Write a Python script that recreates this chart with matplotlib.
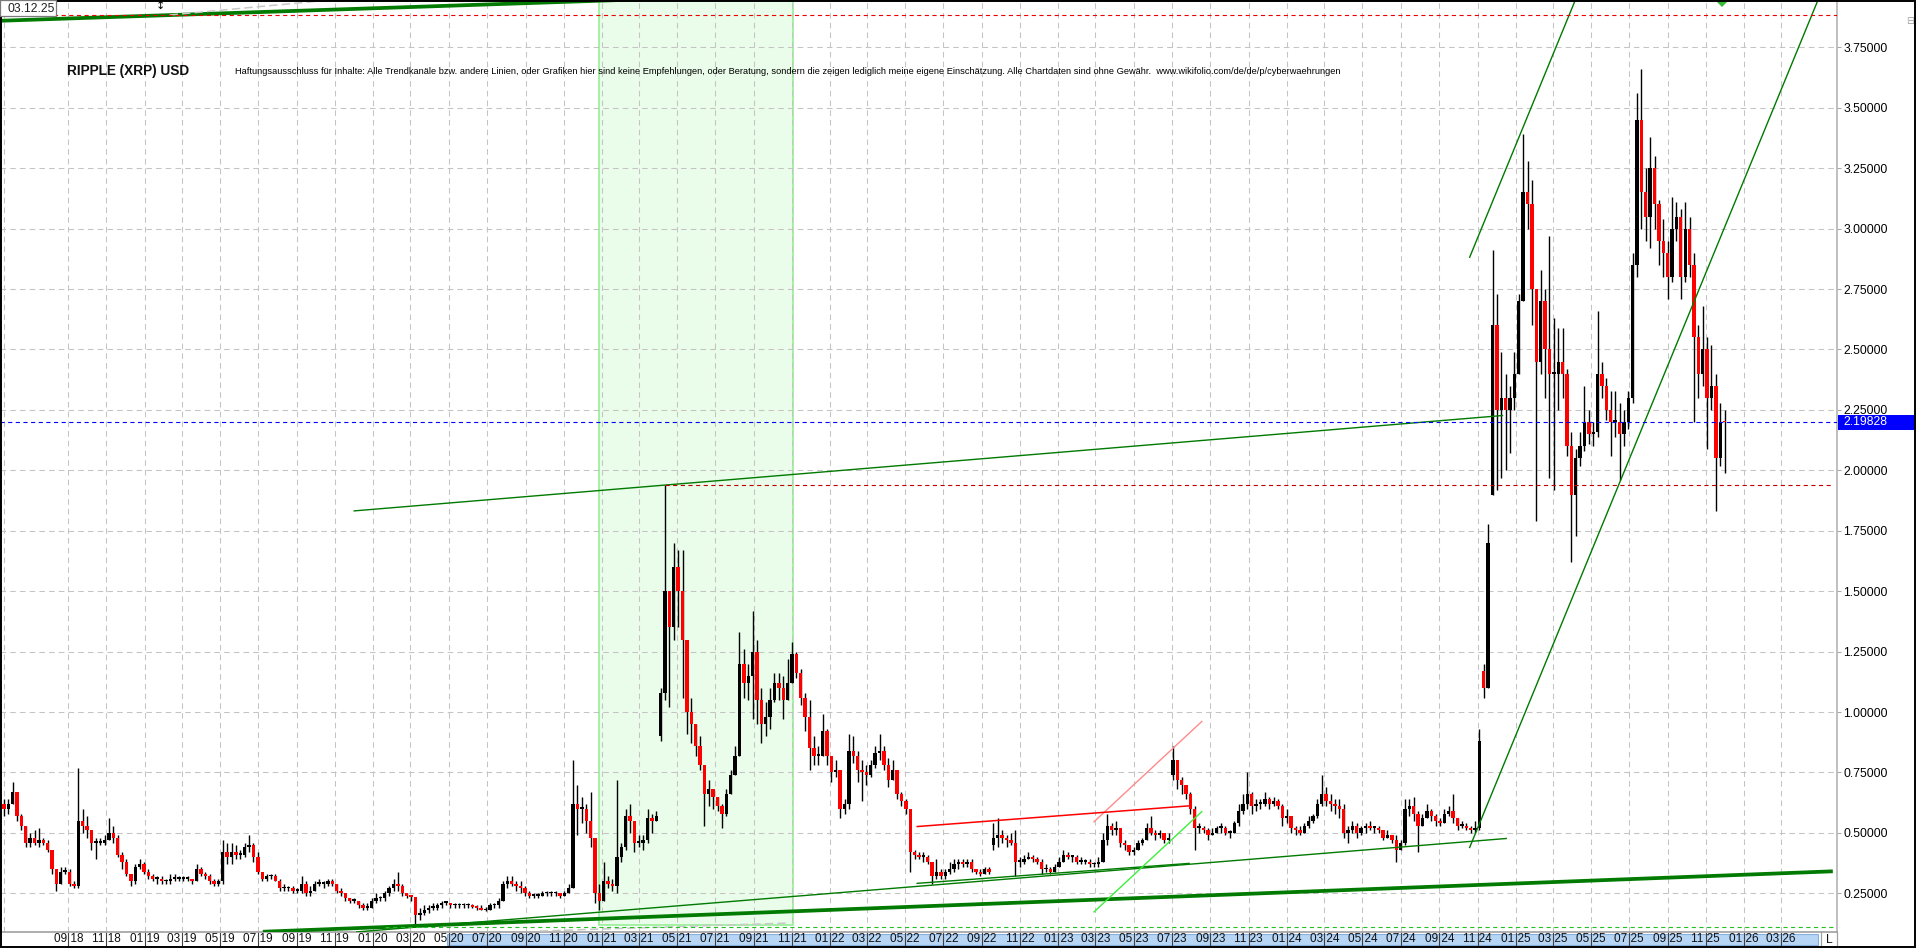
import numpy as np
import pandas as pd
import matplotlib
matplotlib.use("Agg")
import matplotlib.pyplot as plt
import matplotlib.dates as mdates
import matplotlib.transforms as mtransforms
from matplotlib.patches import Rectangle
from matplotlib.lines import Line2D
from matplotlib.collections import LineCollection
from matplotlib.ticker import FixedLocator, FuncFormatter
from matplotlib import font_manager

plt.rcParams['font.family'] = ['Liberation Sans', 'DejaVu Sans']
plt.rcParams['lines.scale_dashes'] = False

# ---------------- weekly XRP/USD candles ----------------
week_start = "2018-05-21"
first_open = 0.62

close = [
    0.60, 0.62, 0.67, 0.57, 0.53, 0.46, 0.48, 0.46, 0.47, 0.46,
    0.43, 0.35, 0.29, 0.34, 0.34, 0.29, 0.28, 0.55, 0.53, 0.51,
    0.46, 0.46, 0.46, 0.47, 0.50, 0.48, 0.41, 0.38, 0.33, 0.30,
    0.36, 0.37, 0.34, 0.32, 0.31, 0.31, 0.30, 0.30, 0.31, 0.31,
    0.31, 0.31, 0.31, 0.30, 0.35, 0.33, 0.32, 0.30, 0.29, 0.30,
    0.42, 0.40, 0.42, 0.41, 0.41, 0.44, 0.45, 0.40, 0.34, 0.31,
    0.32, 0.32, 0.30, 0.27, 0.27, 0.27, 0.26, 0.26, 0.29, 0.25,
    0.26, 0.29, 0.29, 0.29, 0.30, 0.29, 0.26, 0.25, 0.23, 0.22,
    0.22, 0.20, 0.19, 0.19, 0.22, 0.23, 0.23, 0.25, 0.27, 0.29,
    0.28, 0.25, 0.24, 0.235, 0.16, 0.17, 0.18, 0.19, 0.19, 0.20,
    0.21, 0.21, 0.20, 0.20, 0.20, 0.20, 0.20, 0.195, 0.19, 0.18,
    0.18, 0.20, 0.20, 0.22, 0.29, 0.30, 0.29, 0.28, 0.27, 0.25,
    0.24, 0.24, 0.24, 0.25, 0.25, 0.25, 0.25, 0.24, 0.25, 0.27,
    0.62, 0.60, 0.60, 0.55, 0.48, 0.25, 0.22, 0.30, 0.29, 0.28,
    0.40, 0.44, 0.57, 0.55, 0.46, 0.46, 0.47, 0.56, 0.55, 0.57,
    1.08, 1.50, 1.35, 1.60, 1.50, 1.30, 1.00, 0.95, 0.86, 0.78,
    0.66, 0.68, 0.65, 0.61, 0.58, 0.66, 0.74, 0.82, 1.20, 1.12,
    1.15, 1.25, 1.05, 0.95, 0.98, 1.05, 1.12, 1.10, 1.05, 1.12,
    1.24, 1.16, 1.06, 0.98, 0.85, 0.82, 0.82, 0.92, 0.82, 0.75,
    0.76, 0.60, 0.62, 0.84, 0.82, 0.76, 0.75, 0.74, 0.78, 0.83,
    0.84, 0.78, 0.72, 0.76, 0.66, 0.63, 0.60, 0.42, 0.41, 0.40,
    0.40, 0.38, 0.32, 0.34, 0.32, 0.34, 0.35, 0.37, 0.38, 0.37,
    0.38, 0.35, 0.34, 0.33, 0.35, 0.34, 0.48, 0.49, 0.48, 0.47,
    0.46, 0.38, 0.38, 0.39, 0.40, 0.39, 0.38, 0.35, 0.35, 0.34,
    0.36, 0.38, 0.41, 0.40, 0.40, 0.38, 0.38, 0.38, 0.37, 0.37,
    0.38, 0.47, 0.53, 0.51, 0.52, 0.46, 0.45, 0.42, 0.43, 0.46,
    0.47, 0.52, 0.50, 0.49, 0.50, 0.47, 0.48, 0.80, 0.72, 0.70,
    0.66, 0.60, 0.52, 0.52, 0.51, 0.49, 0.50, 0.52, 0.52, 0.50,
    0.50, 0.54, 0.59, 0.62, 0.66, 0.61, 0.62, 0.62, 0.64, 0.62,
    0.63, 0.61, 0.56, 0.57, 0.52, 0.51, 0.50, 0.53, 0.55, 0.57,
    0.62, 0.66, 0.63, 0.62, 0.61, 0.60, 0.50, 0.51, 0.53, 0.50,
    0.52, 0.53, 0.52, 0.52, 0.51, 0.48, 0.49, 0.47, 0.43, 0.46,
    0.60, 0.61, 0.58, 0.53, 0.56, 0.59, 0.57, 0.55, 0.54, 0.58,
    0.59, 0.56, 0.53, 0.53, 0.52, 0.51, 0.52, 0.88, 1.10, 1.70,
    2.60, 2.25, 2.30, 2.25, 2.30, 2.40, 2.70, 3.15, 3.10, 2.75,
    2.45, 2.70, 2.50, 2.40, 2.40, 2.45, 2.40, 2.10, 1.90, 2.05,
    2.10, 2.20, 2.15, 2.16, 2.40, 2.35, 2.25, 2.20, 2.20, 2.15,
    2.20, 2.30, 2.85, 3.45, 3.15, 3.05, 3.25, 3.10, 2.95, 2.90,
    2.80, 3.00, 3.05, 2.80, 3.00, 2.85, 2.55, 2.40, 2.50, 2.30,
    2.35, 2.05, 2.20, 2.19828,
]

high = [
    0.64, 0.64, 0.71, 0.66, 0.58, 0.53, 0.50, 0.51, 0.52, 0.48,
    0.47, 0.43, 0.35, 0.36, 0.36, 0.35, 0.30, 0.77, 0.60, 0.57,
    0.51, 0.48, 0.48, 0.49, 0.56, 0.53, 0.49, 0.42, 0.39, 0.33,
    0.37, 0.39, 0.38, 0.35, 0.33, 0.32, 0.32, 0.31, 0.33, 0.33,
    0.32, 0.32, 0.32, 0.31, 0.37, 0.36, 0.34, 0.33, 0.31, 0.31,
    0.47, 0.46, 0.46, 0.45, 0.43, 0.46, 0.49, 0.46, 0.42, 0.34,
    0.33, 0.33, 0.33, 0.31, 0.29, 0.28, 0.28, 0.27, 0.32, 0.30,
    0.28, 0.30, 0.31, 0.30, 0.31, 0.31, 0.29, 0.27, 0.25, 0.23,
    0.23, 0.22, 0.21, 0.21, 0.23, 0.25, 0.24, 0.26, 0.28, 0.31,
    0.34, 0.29, 0.25, 0.245, 0.23, 0.19, 0.20, 0.20, 0.21, 0.21,
    0.22, 0.22, 0.21, 0.21, 0.21, 0.21, 0.21, 0.205, 0.20, 0.20,
    0.195, 0.21, 0.21, 0.23, 0.30, 0.32, 0.32, 0.30, 0.30, 0.28,
    0.26, 0.25, 0.25, 0.26, 0.26, 0.26, 0.26, 0.25, 0.26, 0.29,
    0.80, 0.70, 0.65, 0.62, 0.67, 0.48, 0.29, 0.38, 0.32, 0.31,
    0.72, 0.46, 0.60, 0.62, 0.55, 0.49, 0.49, 0.60, 0.58, 0.59,
    1.10, 1.94, 1.48, 1.70, 1.67, 1.67, 1.12, 1.06, 0.92, 0.90,
    0.73, 0.72, 0.68, 0.64, 0.62, 0.68, 0.76, 0.86, 1.33, 1.26,
    1.20, 1.42, 1.30, 1.10, 1.04, 1.10, 1.16, 1.16, 1.15, 1.22,
    1.29, 1.25, 1.18, 1.08, 1.05, 0.90, 0.86, 0.99, 0.93, 0.82,
    0.80, 0.76, 0.64, 0.91, 0.90, 0.84, 0.80, 0.78, 0.80, 0.86,
    0.91, 0.86, 0.81, 0.80, 0.76, 0.67, 0.64, 0.60, 0.43, 0.42,
    0.42, 0.41, 0.36, 0.39, 0.35, 0.35, 0.38, 0.39, 0.39, 0.39,
    0.39, 0.39, 0.35, 0.35, 0.36, 0.36, 0.54, 0.56, 0.51, 0.49,
    0.50, 0.51, 0.40, 0.41, 0.42, 0.41, 0.40, 0.39, 0.37, 0.36,
    0.37, 0.40, 0.43, 0.42, 0.41, 0.41, 0.40, 0.39, 0.39, 0.38,
    0.40, 0.50, 0.58, 0.54, 0.55, 0.52, 0.47, 0.45, 0.44, 0.47,
    0.48, 0.54, 0.57, 0.51, 0.51, 0.50, 0.50, 0.86, 0.80, 0.73,
    0.70, 0.67, 0.61, 0.54, 0.53, 0.52, 0.52, 0.53, 0.54, 0.53,
    0.51, 0.55, 0.62, 0.66, 0.75, 0.67, 0.64, 0.64, 0.67, 0.65,
    0.65, 0.64, 0.62, 0.60, 0.56, 0.53, 0.53, 0.54, 0.57, 0.58,
    0.64, 0.74, 0.69, 0.66, 0.64, 0.64, 0.62, 0.53, 0.55, 0.54,
    0.53, 0.54, 0.55, 0.53, 0.53, 0.51, 0.51, 0.49, 0.49, 0.47,
    0.64, 0.64, 0.65, 0.59, 0.58, 0.62, 0.60, 0.58, 0.56, 0.60,
    0.61, 0.66, 0.56, 0.55, 0.54, 0.53, 0.55, 0.93, 1.20, 1.78,
    2.91, 2.73, 2.49, 2.40, 2.35, 2.49, 2.73, 3.39, 3.28, 3.20,
    2.75, 2.83, 2.75, 2.97, 2.63, 2.59, 2.59, 2.42, 2.16, 2.09,
    2.16, 2.35, 2.25, 2.20, 2.66, 2.45, 2.38, 2.33, 2.33, 2.28,
    2.25, 2.33, 2.90, 3.56, 3.66, 3.25, 3.38, 3.30, 3.12, 3.04,
    2.95, 3.13, 3.11, 3.08, 3.11, 3.05, 2.90, 2.60, 2.68, 2.55,
    2.52, 2.40, 2.28, 2.25,
]

low = [
    0.57, 0.58, 0.64, 0.55, 0.51, 0.44, 0.44, 0.45, 0.44, 0.45,
    0.42, 0.33, 0.26, 0.29, 0.33, 0.28, 0.27, 0.27, 0.50, 0.48,
    0.43, 0.39, 0.45, 0.45, 0.47, 0.46, 0.40, 0.35, 0.32, 0.28,
    0.29, 0.35, 0.33, 0.31, 0.30, 0.29, 0.29, 0.29, 0.29, 0.30,
    0.30, 0.30, 0.30, 0.29, 0.30, 0.32, 0.31, 0.29, 0.28, 0.28,
    0.29, 0.37, 0.37, 0.39, 0.39, 0.40, 0.42, 0.38, 0.33, 0.30,
    0.30, 0.31, 0.30, 0.26, 0.26, 0.26, 0.25, 0.25, 0.25, 0.24,
    0.24, 0.26, 0.28, 0.27, 0.28, 0.28, 0.25, 0.24, 0.22, 0.21,
    0.21, 0.19, 0.18, 0.18, 0.19, 0.21, 0.22, 0.22, 0.24, 0.26,
    0.26, 0.24, 0.23, 0.22, 0.12, 0.14, 0.16, 0.17, 0.18, 0.18,
    0.19, 0.20, 0.19, 0.19, 0.19, 0.19, 0.19, 0.19, 0.18, 0.18,
    0.175, 0.18, 0.19, 0.19, 0.22, 0.27, 0.28, 0.26, 0.25, 0.24,
    0.23, 0.23, 0.23, 0.24, 0.24, 0.24, 0.24, 0.23, 0.24, 0.25,
    0.27, 0.49, 0.54, 0.50, 0.44, 0.21, 0.18, 0.22, 0.27, 0.26,
    0.25, 0.38, 0.43, 0.50, 0.42, 0.44, 0.43, 0.46, 0.50, 0.55,
    0.88, 1.05, 1.02, 1.30, 1.35, 1.06, 0.91, 0.87, 0.82, 0.76,
    0.53, 0.61, 0.60, 0.59, 0.52, 0.57, 0.66, 0.74, 0.82, 1.06,
    1.05, 0.97, 0.95, 0.87, 0.90, 0.93, 1.04, 1.05, 0.97, 1.05,
    1.12, 1.14, 1.03, 0.92, 0.76, 0.78, 0.78, 0.82, 0.78, 0.71,
    0.73, 0.56, 0.58, 0.60, 0.79, 0.71, 0.63, 0.70, 0.73, 0.77,
    0.80, 0.76, 0.69, 0.72, 0.64, 0.61, 0.58, 0.34, 0.39, 0.39,
    0.38, 0.37, 0.29, 0.31, 0.31, 0.31, 0.33, 0.34, 0.35, 0.36,
    0.36, 0.34, 0.33, 0.32, 0.33, 0.33, 0.43, 0.44, 0.46, 0.44,
    0.45, 0.32, 0.36, 0.37, 0.39, 0.38, 0.37, 0.33, 0.34, 0.33,
    0.34, 0.36, 0.38, 0.39, 0.38, 0.37, 0.37, 0.37, 0.36, 0.36,
    0.36, 0.38, 0.45, 0.49, 0.49, 0.44, 0.43, 0.41, 0.41, 0.43,
    0.45, 0.47, 0.49, 0.47, 0.48, 0.46, 0.46, 0.72, 0.68, 0.66,
    0.64, 0.58, 0.43, 0.50, 0.50, 0.47, 0.49, 0.50, 0.50, 0.49,
    0.48, 0.50, 0.53, 0.58, 0.60, 0.58, 0.59, 0.60, 0.61, 0.60,
    0.61, 0.60, 0.53, 0.54, 0.50, 0.49, 0.49, 0.50, 0.52, 0.54,
    0.56, 0.61, 0.61, 0.59, 0.58, 0.56, 0.48, 0.46, 0.50, 0.48,
    0.49, 0.50, 0.51, 0.50, 0.50, 0.47, 0.48, 0.46, 0.38, 0.43,
    0.45, 0.57, 0.55, 0.42, 0.53, 0.56, 0.55, 0.53, 0.53, 0.54,
    0.57, 0.54, 0.51, 0.52, 0.51, 0.50, 0.50, 0.51, 1.06, 1.10,
    1.90, 1.92, 1.97, 2.00, 2.07, 2.25, 2.40, 2.70, 3.00, 2.60,
    1.79, 2.40, 2.30, 1.97, 1.92, 2.25, 2.30, 2.06, 1.62, 1.73,
    2.02, 2.08, 2.11, 2.10, 2.14, 2.30, 2.21, 2.06, 2.14, 1.96,
    2.10, 2.17, 2.28, 2.80, 3.00, 2.95, 2.92, 3.00, 2.85, 2.80,
    2.71, 2.78, 2.95, 2.71, 2.78, 2.80, 2.20, 2.30, 2.35, 2.09,
    2.25, 1.83, 2.02, 1.99,
]

# weeks where the feed resumes after missing days (open differs from prior close)
gap_open = {150: 0.90, 226: 0.45, 267: 0.74, 338: 1.17, 340: 1.90}

price_ticks = [0.25, 0.50, 0.75, 1.00, 1.25, 1.50, 1.75, 2.00,
               2.25, 2.50, 2.75, 3.00, 3.25, 3.50, 3.75]
month_ticks = pd.date_range("2018-09-01", "2026-03-01", freq="2MS")

# drawn trend lines: (start date, start price, end date, end price)
support_long = ("2019-07-09", 0.091, "2026-05-23", 0.341)
support_mid = ("2019-12-05", 0.090, "2024-12-18", 0.477)
support_mid2 = ("2022-05-19", 0.291, "2023-07-30", 0.374)
resist_long = ("2019-12-01", 1.832, "2024-12-12", 2.227)
channel_top_left = ("2018-05-14", 3.860, "2021-06-07", 3.957)
channel_gray_top = ("2019-02-10", 3.884, "2019-11-11", 3.950)
channel_gray_low = ("2020-09-24", 0.094, "2021-10-28", 0.127)
steep_upper = ("2024-10-19", 2.879, "2025-04-07", 3.950)
steep_lower = ("2024-10-19", 0.437, "2026-04-30", 3.950)
steep_lime = ("2023-02-26", 0.171, "2023-08-19", 0.590)
steep_pink = ("2023-02-26", 0.544, "2023-08-19", 0.963)
resist_red = ("2022-05-19", 0.526, "2023-07-30", 0.612)
level_top = 3.883
level_floor = ("2020-01-20", "2026-05-23", 0.109)
zone_2021 = ("2020-12-28", "2021-11-02", 0.119)
marker_top = "2025-11-27"

title = "RIPPLE (XRP) USD"
disclaimer = ("Haftungsausschluss für Inhalte: Alle Trendkanäle bzw. andere Linien, oder Grafiken "
              "hier sind keine Empfehlungen, oder Beratung, sondern die zeigen lediglich meine eigene "
              "Einschätzung. Alle Chartdaten sind ohne Gewähr.  www.wikifolio.com/de/de/p/cyberwaehrungen")
stamp = "03.12.25"

# ---------------- figure layout (pixels) ----------------
W, H = 1916, 948
fig = plt.figure(figsize=(W / 100, H / 100), dpi=100)
fig.patch.set_facecolor("white")
PR, PB = 1837, 932
ax = fig.add_axes([0, 1 - PB / H, PR / W, PB / H])
ax.set_facecolor("white")


def fx(x):
    return x / W


def fy(y):
    return 1 - y / H


def d(s):
    return mdates.date2num(pd.Timestamp(s))


Y_BOT, Y_TOP = 0.0899, 3.946
ax.set_xlim(d("2018-05-14 19:00"), d("2026-05-29 17:00"))
ax.set_ylim(Y_BOT, Y_TOP)
PX_PER_UNIT = PB / (Y_TOP - Y_BOT)

# grid
dash_grid = (0, (4.0, 3.0))
ax.grid(True, color="#c4c4c4", linestyle=dash_grid, linewidth=0.75)
ax.set_axisbelow("line")

# shaded zone
z0, z1, zb = zone_2021
ax.add_patch(Rectangle((d(z0), zb), d(z1) - d(z0), 5.0, facecolor="#eafcea",
                       edgecolor="#8eee8e", linewidth=1.1, zorder=1))

# ---------------- candles ----------------
dates = pd.date_range(week_start, periods=len(close), freq="7D")
xd = mdates.date2num(dates)
c = np.array(close, dtype=float)
h = np.array(high, dtype=float)
l = np.array(low, dtype=float)
o = np.r_[first_open, c[:-1]]
for k, v in gap_open.items():
    o[k] = v
h = np.maximum(h, np.maximum(o, c))
l = np.minimum(l, np.minimum(o, c))

ax.axvline(xd[0], color="#c4c4c4", linestyle=dash_grid, linewidth=0.75, zorder=1.5)

segs = np.stack([np.c_[xd, l], np.c_[xd, h]], axis=1)
ax.add_collection(LineCollection(segs, colors="black", linewidths=1.0, zorder=3))
down = c < o
body_lo = np.minimum(o, c)
body_h = np.maximum(np.abs(c - o), 1.6 / PX_PER_UNIT)
ax.bar(xd, body_h, bottom=body_lo, width=5.4,
       color=np.where(down, "#ff0000", "#000000"), linewidth=0, zorder=3.1)


# ---------------- trend lines ----------------
def tline(spec, color, lw, ls="-", z=4):
    a, pa, b, pb = spec
    ax.plot([d(a), d(b)], [pa, pb], color=color, linewidth=lw, linestyle=ls,
            solid_capstyle="butt", zorder=z)


dark_green = "#007a00"
tline(support_long, dark_green, 2.7)
tline(channel_top_left, dark_green, 2.7)
tline(support_mid, dark_green, 1.0)
tline(support_mid2, dark_green, 1.0)
tline(resist_long, dark_green, 1.0)
tline(steep_upper, dark_green, 1.0)
tline(steep_lower, dark_green, 1.0)
tline(steep_lime, "#3cf03c", 1.0)
tline(steep_pink, "#ff8a8a", 1.0)
tline(resist_red, "#ff0000", 1.1)
tline(channel_gray_top, "#c8c8c8", 1.1, ls=(0, (6, 3)))
tline(channel_gray_low, "#c8c8c8", 1.1, ls=(0, (6, 3)))

dash_lvl = (0, (3.0, 2.5))
ax.axhline(level_top, color="#ee0000", linestyle=dash_lvl, linewidth=0.8, zorder=4)
ax.axhline(c[-1], color="#0000ff", linestyle=dash_lvl, linewidth=0.8, zorder=4)
peak_i = int(np.argmax(h[:200]))
ax.plot([xd[peak_i], d("2026-05-21")], [h[peak_i], h[peak_i]], color="#c00000",
        linestyle=dash_lvl, linewidth=0.8, zorder=4)
f0, f1, fp = level_floor
ax.plot([d(f0), d(f1)], [fp, fp], color="#22c022", linestyle=dash_lvl, linewidth=0.8, zorder=4)
ax.plot([d(marker_top)], [Y_TOP], marker="D", markersize=7, color="#33bb33",
        markeredgewidth=0, zorder=5)

# ---------------- axes ----------------
ax.yaxis.tick_right()
ax.yaxis.set_major_locator(FixedLocator(price_ticks))
ax.yaxis.set_major_formatter(FuncFormatter(lambda v, _: f"{v:.5f}"))
ax.tick_params(axis="y", direction="out", length=3.0, width=0.75, color="#a8a8a8",
               labelsize=8.7, pad=1.5, labelcolor="#000000")

ax.xaxis.set_major_locator(FixedLocator(mdates.date2num(month_ticks)))
ax.set_xticklabels([f"{t.month:02d} {t.year % 100:02d}" for t in month_ticks])
ax.tick_params(axis="x", direction="out", length=10.0, width=0.8, color="#404040",
               labelsize=8.5, pad=-9.2, labelcolor="#101010")

for side, col, lw in (("left", "black", 1.5), ("top", "black", 1.5),
                      ("right", "#b4b4b4", 1.2), ("bottom", "#a0a0a0", 1.2)):
    ax.spines[side].set_color(col)
    ax.spines[side].set_linewidth(lw)

# price tag for the last close
tag = mtransforms.blended_transform_factory(ax.transAxes, ax.transData)
tag_h = 14.5 / PX_PER_UNIT
ax.add_patch(Rectangle((1838 / PR, c[-1] - tag_h / 2), 77 / PR, tag_h, transform=tag,
                       facecolor="#0000ff", edgecolor="none", clip_on=False, zorder=6))
ax.text(1843 / PR, c[-1], f"{c[-1]:.5f}", transform=tag, color="white", fontsize=8.7,
        va="center", ha="left", clip_on=False, zorder=7)

# ---------------- date band below the plot ----------------
fig.patches.append(Rectangle((fx(447), fy(945)), fx(1818) - fx(447), (945 - 933.5) / H,
                             transform=fig.transFigure, facecolor="#b7d6f6",
                             edgecolor="#86b0dc", linewidth=0.8, zorder=-1))
for xx in (1821, 1837):
    fig.lines.append(Line2D([fx(xx), fx(xx)], [fy(932), fy(947)], transform=fig.transFigure,
                            color="#a0a0a0", linewidth=0.9, zorder=5))
fig.text(fx(1829), fy(940), "L", fontsize=8.7, ha="center", va="center", color="#101010")

# outer frame
fig.patches.append(Rectangle((fx(0.5), fy(946.8)), fx(1914.5) - fx(0.5), (946.8 - 0.5) / H,
                             transform=fig.transFigure, fill=False, edgecolor="black",
                             linewidth=1.4, zorder=6))
fig.text(fx(1910), fy(21), "⊟", fontsize=7, ha="center", va="center", color="#a0a0a0")

# ---------------- header texts ----------------
fig.patches.append(Rectangle((fx(0), fy(15.5)), fx(56), 15.5 / H, transform=fig.transFigure,
                             facecolor="white", edgecolor="#7a7a7a", linewidth=0.9, zorder=6))
fig.text(fx(7), fy(8.5), stamp, fontsize=8.7, ha="left", va="center", color="#202020", zorder=7)
fig.text(fx(160), fy(6), "↕", fontsize=8, ha="center", va="center", color="black",
         family=["DejaVu Sans"], zorder=7)

fig.text(fx(67), fy(71.5), title, fontsize=9.8, fontweight="bold", ha="left", va="center",
         color="#101010", zorder=7)

names = {f.name for f in font_manager.fontManager.ttflist}
narrow = "Liberation Sans Narrow" if "Liberation Sans Narrow" in names else "Liberation Sans"
disc = fig.text(fx(235), fy(71.5), disclaimer, fontsize=7.0, ha="left", va="center",
                color="#000000", family=[narrow, "DejaVu Sans"], zorder=7)
renderer = fig.canvas.get_renderer()
wpx = disc.get_window_extent(renderer=renderer).width
disc.set_fontsize(7.0 * (1338 - 235) / wpx)

fig.savefig("out.png", dpi=100, facecolor="white")
